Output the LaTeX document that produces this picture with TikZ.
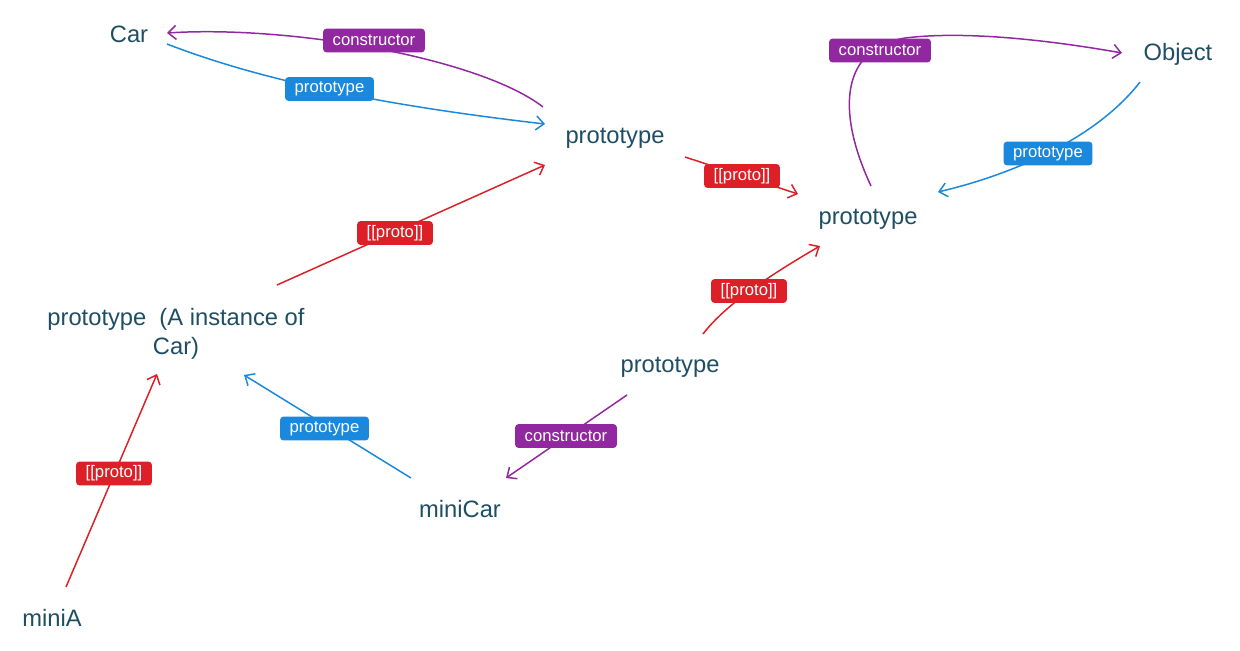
\documentclass[tikz,border=0pt]{standalone}
\usepackage{fontspec}
\setmainfont{Liberation Sans}
\usetikzlibrary{arrows.meta}
\definecolor{txt}{HTML}{1E4E63}
\definecolor{cblue}{HTML}{1A88DC}
\definecolor{cred}{HTML}{DD2027}
\definecolor{cpurple}{HTML}{9228A0}
\tikzset{
  obj/.style={inner sep=0pt, text=txt, font=\fontsize{13.5}{16.4}\selectfont, align=center, text depth=0pt},
  lbl/.style={rounded corners=2pt, text=white, font=\fontsize{9.5}{11}\selectfont,
    inner xsep=5.5pt, inner ysep=0pt, minimum height=13.6pt},
  lblue/.style={lbl, fill=cblue},
  lred/.style={lbl, fill=cred},
  lpurple/.style={lbl, fill=cpurple},
  conn/.style={line width=0.85pt, -{Straight Barb[length=4.5pt,width=8pt]}},
  cb/.style={conn, cblue},
  cr/.style={conn, cred},
  cp/.style={conn, cpurple},
}
\begin{document}
\begin{tikzpicture}[x=0.02cm, y=-0.02cm]
\useasboundingbox (0,0) rectangle (1240,650);
% objects
\node[obj] (car) at (129,34) {Car};
\node[obj] (p1) at (615,136) {prototype};
\node[obj] (p2) at (868,217) {prototype};
\node[obj] (obj) at (1178,52) {Object};
\node[obj] (pa) at (176,331) {prototype\ \ (A instance of\\Car)};
\node[obj] (p3) at (670,365) {prototype};
\node[obj] (mc) at (460,509) {miniCar};
\node[obj] (ma) at (52,618) {miniA};
% connectors
\draw[cb] ([shift={(38,10)}]car.center) .. controls (260,80) and (380,105) .. ([shift={(-70,-12)}]p1.center);
\draw[cp] ([shift={(-72,-29)}]p1.center) .. controls (480,58) and (290,25) .. ([shift={(38,-1)}]car.center);
\draw[cr] ([shift={(101,-46)}]pa.center) -- ([shift={(-70,29)}]p1.center);
\draw[cr] ([shift={(70,21)}]p1.center) -- ([shift={(-70,-23)}]p2.center);
\draw[cp] ([shift={(3,-31)}]p2.center) .. controls (840,120) and (835,50) .. (905,38) .. controls (970,30) and (1060,42) .. ([shift={(-56,1)}]obj.center);
\draw[cb] ([shift={(-38,30)}]obj.center) .. controls (1095,140) and (1010,175) .. ([shift={(70,-25)}]p2.center);
\draw[cr] ([shift={(33,-31)}]p3.center) .. controls (725,305) and (770,275) .. ([shift={(-48,29)}]p2.center);
\draw[cp] ([shift={(-43,30)}]p3.center) -- ([shift={(46,-31)}]mc.center);
\draw[cb] ([shift={(-49,-31)}]mc.center) -- ([shift={(68,44)}]pa.center);
\draw[cr] ([shift={(14,-31)}]ma.center) -- ([shift={(-19,43)}]pa.center);
% labels
\node[lblue] (l1) at (329.5,89) {prototype};
\node[lpurple] (l2) at (374,40.5) {constructor};
\node[lred] (l3) at (395,233) {[[proto]]};
\node[lred] (l4) at (742,176) {[[proto]]};
\node[lpurple] (l5) at (880,50.5) {constructor};
\node[lblue] (l6) at (1048,153.5) {prototype};
\node[lred] (l7) at (749,291) {[[proto]]};
\node[lpurple] (l8) at (566,436) {constructor};
\node[lblue] (l9) at (324.5,428.5) {prototype};
\node[lred] (l10) at (114,473.5) {[[proto]]};
\end{tikzpicture}
\end{document}
